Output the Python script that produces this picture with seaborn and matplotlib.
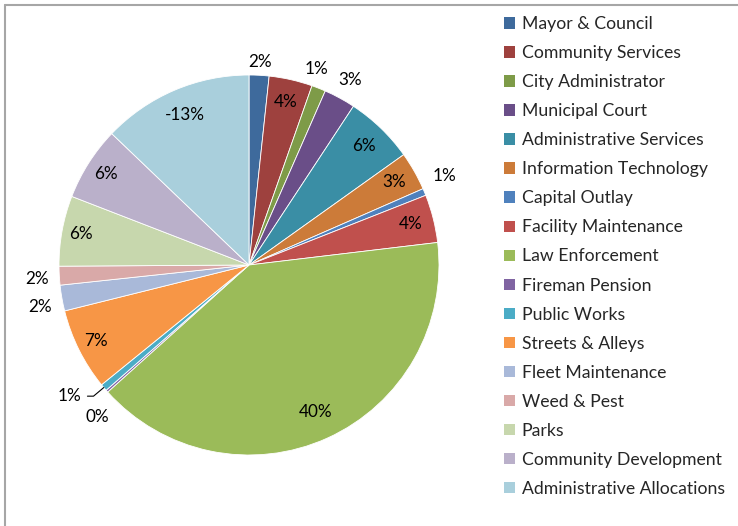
import numpy as np
import matplotlib.pyplot as plt
import seaborn as sns
from matplotlib.patches import Patch
from matplotlib.lines import Line2D

# Budget shares by department (Administrative Allocations is a negative line)
departments = ['Mayor & Council', 'Community Services', 'City Administrator',
               'Municipal Court', 'Administrative Services', 'Information Technology',
               'Capital Outlay', 'Facility Maintenance', 'Law Enforcement',
               'Fireman Pension', 'Public Works', 'Streets & Alleys',
               'Fleet Maintenance', 'Weed & Pest', 'Parks',
               'Community Development', 'Administrative Allocations']
shares = [1.7, 3.7, 1.2, 2.7, 5.9, 3.3, 0.6, 4.1, 40.4,
          0.2, 0.6, 7.0, 2.2, 1.6, 6.0, 6.3, -12.9]
colors = ['#3E6A9C', '#9E413E', '#7E9B48', '#6A4E88', '#3A8EA5', '#CC7B39',
          '#4F81BD', '#C0504D', '#9BBB59', '#8064A2', '#4BACC6', '#F79646',
          '#A9B9D9', '#D9A9A8', '#C7D7AD', '#BAB0CA', '#A9CFDC']
# label placement: radius (fraction of pie radius) and angle nudge in degrees
label_r = [1.07, 0.88, 1.09, 1.11, 0.87, 0.88, 1.13, 0.88, 0.85,
           1.13, 1.17, 0.9, 1.12, 1.12, 0.9, 0.89, 0.86]
label_nudge = [0, 0, -2.5, 0, 0, 0, -2, 0, 0, -3.6, 4, 0, -1.3, -0.6, 0, 0, 0]

sns.set_theme(style='white')
plt.rcParams['font.family'] = ['Lato', 'DejaVu Sans']

W, H = 738, 526
fig = plt.figure(figsize=(W / 100, H / 100), dpi=100)
ax = fig.add_axes([59 / W, (H - 455) / H, 380 / W, 380 / H])

sizes = np.abs(shares)
total = sizes.sum()
wedges, _ = ax.pie(sizes, colors=colors, startangle=90, counterclock=False,
                   radius=1.0, wedgeprops=dict(edgecolor='white', linewidth=0.6))
ax.set_xlim(-1.0, 1.0)
ax.set_ylim(-1.0, 1.0)
ax.set_aspect('equal')
ax.axis('off')

for i, w in enumerate(wedges):
    pct = shares[i] / total * 100
    ang = np.deg2rad((w.theta1 + w.theta2) / 2 - label_nudge[i])
    x, y = label_r[i] * np.cos(ang), label_r[i] * np.sin(ang)
    txt = f'{pct:.0f}%'
    if departments[i] == 'Public Works':
        mid = np.deg2rad((w.theta1 + w.theta2) / 2)
        ax.annotate(txt, xy=(np.cos(mid), np.sin(mid)), xytext=(x, y),
                    ha='center', va='center', fontsize=12.3, color='black',
                    arrowprops=dict(arrowstyle='-', color='black', lw=0.8,
                                    shrinkA=2, shrinkB=0,
                                    connectionstyle='angle,angleA=0,angleB=40,rad=0'),
                    annotation_clip=False)
    else:
        ax.text(x, y, txt, ha='center', va='center', fontsize=12.3, color='black')

handles = [Patch(facecolor=c, edgecolor='none') for c in colors]
fig.legend(handles, departments, loc='upper left', bbox_to_anchor=(497 / W, 1 - 9 / H),
           frameon=False, fontsize=12.7, handlelength=0.62, handleheight=0.62,
           handletextpad=0.38, labelspacing=0.74, borderaxespad=0)

# chart area frame (only left and top edges are visible)
fig.add_artist(Line2D([5 / W, 5 / W], [0, 1 - 5 / H], color='#A6A6A6', lw=1.5))
fig.add_artist(Line2D([5 / W, 1], [1 - 5 / H, 1 - 5 / H], color='#A6A6A6', lw=1.5))

fig.savefig('out.png', dpi=100, facecolor='white')
